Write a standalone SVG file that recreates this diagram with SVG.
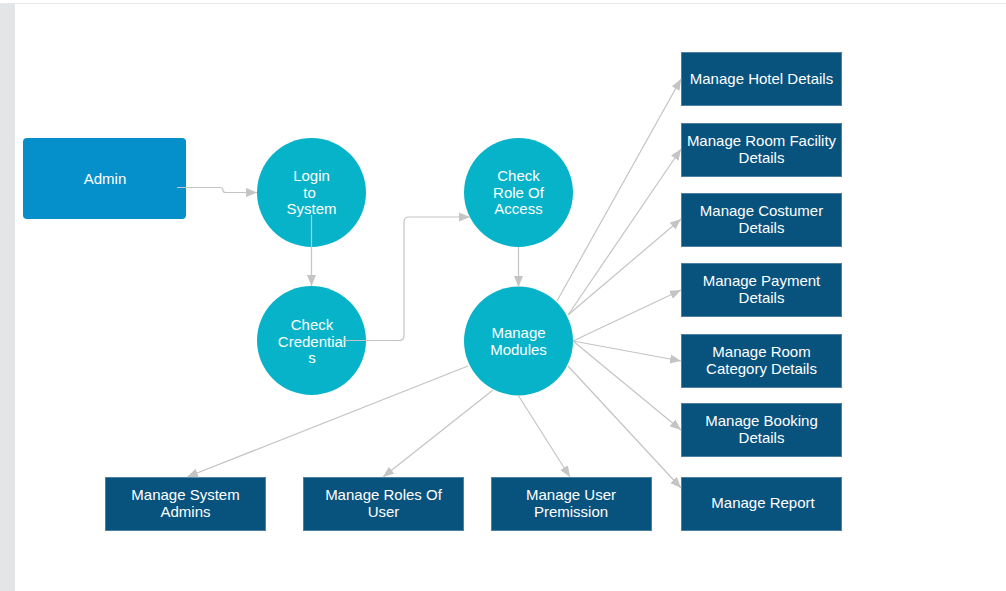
<svg xmlns="http://www.w3.org/2000/svg" width="1006" height="591" viewBox="0 0 1006 591">
<style>
.t{font-family:"Liberation Sans",Arial,sans-serif;font-size:15px;fill:#ffffff;text-anchor:middle}
.c{fill:#07b3c9}
.b{fill:#08537e;stroke:#4f7fa3;stroke-width:1}
.e{fill:none;stroke:#c4c4c4;stroke-width:1.2}
</style>
<defs>
<marker id="a" markerUnits="userSpaceOnUse" markerWidth="12" markerHeight="10" refX="11" refY="5" orient="auto">
<path d="M0,0.5 L11,5 L0,9.5 z" fill="#c4c4c4"/>
</marker>
</defs>
<rect x="0" y="0" width="1006" height="591" fill="#ffffff"/>
<rect x="0" y="3" width="15" height="588" fill="#e4e5e7"/>
<line x1="0" y1="3.5" x2="1006" y2="3.5" stroke="#e8e8e8" stroke-width="1"/>

<g id="admin">
<rect x="23" y="138" width="163" height="81" rx="4" fill="#0590cb"/>
<text class="t" x="105" y="184">Admin</text>
</g>

<g id="login">
<circle class="c" cx="311.5" cy="192.5" r="54.5"/>
<text class="t" x="311.5" y="181">Login</text>
<text class="t" x="309.5" y="197.5">to</text>
<text class="t" x="311.5" y="214">System</text>
</g>
<g id="checkCredentials">
<circle class="c" cx="311.5" cy="340.5" r="54.5"/>
<text class="t" x="312" y="330">Check</text>
<text class="t" x="312" y="346.5">Credential</text>
<text class="t" x="312" y="363">s</text>
</g>
<g id="checkRole">
<circle class="c" cx="518.5" cy="192.5" r="54.5"/>
<text class="t" x="518.5" y="181">Check</text>
<text class="t" x="518.5" y="197.5">Role Of</text>
<text class="t" x="518.5" y="214">Access</text>
</g>
<g id="manageModules">
<circle class="c" cx="518.5" cy="341" r="54.5"/>
<text class="t" x="518.5" y="338">Manage</text>
<text class="t" x="518.5" y="355">Modules</text>
</g>

<g id="hotel">
<rect class="b" x="681.5" y="52.5" width="160" height="53"/>
<text class="t" x="761.5" y="84">Manage Hotel Details</text>
</g>
<g id="roomFacility">
<rect class="b" x="681.5" y="123.5" width="160" height="53"/>
<text class="t" x="761.5" y="146">Manage Room Facility</text>
<text class="t" x="761.5" y="163">Details</text>
</g>
<g id="costumer">
<rect class="b" x="681.5" y="193.5" width="160" height="53"/>
<text class="t" x="761.5" y="216">Manage Costumer</text>
<text class="t" x="761.5" y="233">Details</text>
</g>
<g id="payment">
<rect class="b" x="681.5" y="263.5" width="160" height="53"/>
<text class="t" x="761.5" y="286">Manage Payment</text>
<text class="t" x="761.5" y="303">Details</text>
</g>
<g id="roomCategory">
<rect class="b" x="681.5" y="334.5" width="160" height="53"/>
<text class="t" x="761.5" y="357">Manage Room</text>
<text class="t" x="761.5" y="374">Category Details</text>
</g>
<g id="booking">
<rect class="b" x="681.5" y="403.5" width="160" height="53"/>
<text class="t" x="761.5" y="426">Manage Booking</text>
<text class="t" x="761.5" y="443">Details</text>
</g>
<g id="report">
<rect class="b" x="681.5" y="477.5" width="160" height="53"/>
<text class="t" x="763" y="508">Manage Report</text>
</g>
<g id="systemAdmins">
<rect class="b" x="105.5" y="477.5" width="160" height="53"/>
<text class="t" x="185.5" y="500">Manage System</text>
<text class="t" x="185.5" y="517">Admins</text>
</g>
<g id="roles">
<rect class="b" x="303.5" y="477.5" width="160" height="53"/>
<text class="t" x="383.5" y="500">Manage Roles Of</text>
<text class="t" x="383.5" y="517">User</text>
</g>
<g id="userPermission">
<rect class="b" x="491.5" y="477.5" width="160" height="53"/>
<text class="t" x="571" y="500">Manage User</text>
<text class="t" x="571" y="517">Premission</text>
</g>

<g id="connectors">
<path class="e" marker-end="url(#a)" d="M177,187.5 L220,187.5 Q223,187.5 223,190 L223,190.5 Q223,192.5 226,192.5 L257,192.5"/>
<path class="e" marker-end="url(#a)" d="M311.5,215 L311.5,286"/>
<path class="e" marker-end="url(#a)" d="M343,340.5 L399,340.5 Q404,340.5 404,335.5 L404,222 Q404,217 409,217 L470,217"/>
<path class="e" marker-end="url(#a)" d="M518.5,247 L518.5,287"/>
<path class="e" marker-end="url(#a)" d="M557,301 L681,79"/>
<path class="e" marker-end="url(#a)" d="M568,315 L681,149"/>
<path class="e" marker-end="url(#a)" d="M568,315 L681,219"/>
<path class="e" marker-end="url(#a)" d="M573,341 L681,290"/>
<path class="e" marker-end="url(#a)" d="M573,341 L681,361"/>
<path class="e" marker-end="url(#a)" d="M573,341 L681,430"/>
<path class="e" marker-end="url(#a)" d="M568,366 L681,488"/>
<path class="e" marker-end="url(#a)" d="M468,366 L187,477"/>
<path class="e" marker-end="url(#a)" d="M493,390 L383,477"/>
<path class="e" marker-end="url(#a)" d="M518,395 L570,477"/>
</g>
</svg>
